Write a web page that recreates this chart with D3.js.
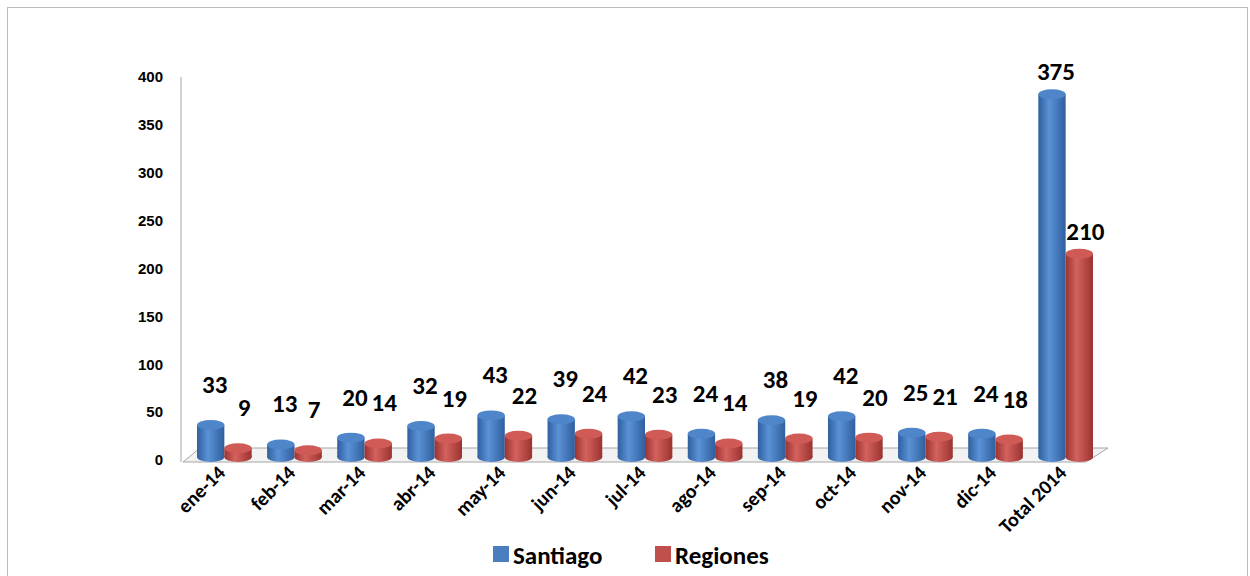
<!DOCTYPE html>
<html><head><meta charset="utf-8">
<script src="https://cdn.jsdelivr.net/npm/d3@7"></script>
<style>body{margin:0;background:#fff}svg{font-family:Carlito,"Open Sans","Liberation Sans",Arial,sans-serif}</style>
</head><body><svg id="c" width="1250" height="576"></svg>
<script>
var categories = ["ene-14","feb-14","mar-14","abr-14","may-14","jun-14","jul-14","ago-14","sep-14","oct-14","nov-14","dic-14","Total 2014"];
var santiago = [33,13,20,32,43,39,42,24,38,42,25,24,375];
var regiones = [9,7,14,19,22,24,23,14,19,20,21,18,210];
var yTicks = [0,50,100,150,200,250,300,350,400];

var svg = d3.select("#c");
svg.append("rect").attr("x",7.5).attr("y",7.5).attr("width",1240).attr("height",575).attr("fill","none").attr("stroke","#bbb");

var defs = svg.append("defs");
function grad(id, dark, light) {
  var g = defs.append("linearGradient").attr("id", id);
  g.append("stop").attr("offset","0%").attr("stop-color",dark);
  g.append("stop").attr("offset","40%").attr("stop-color",light);
  g.append("stop").attr("offset","100%").attr("stop-color",dark);
}
grad("gb","#2f5f9e","#5b92d6");
grad("gr","#9b3330","#d4625e");

var y = d3.scaleLinear().domain([0,400]).range([460,77]);
var yb = d3.scaleLinear().domain([0,400]).range([457,70]);
var x = d3.scaleBand().domain(categories).range([190,1100]).paddingInner(0.22).paddingOuter(0.1);

// floor
svg.append("path").attr("d","M183,462 L200,448 L1108,448 L1086,462 Z").attr("fill","#f2f2f2").attr("stroke","#a6a6a6");
svg.append("line").attr("x1",181).attr("x2",181).attr("y1",77).attr("y2",462).attr("stroke","#a6a6a6");

var ax = svg.append("g").attr("transform","translate(181,0)").call(d3.axisLeft(y).tickValues(yTicks).tickSize(0).tickPadding(18));
ax.select(".domain").remove();
ax.selectAll("text").attr("font-size",15).attr("font-weight","bold").attr("fill","#000");

var bw = x.bandwidth()/2;
function cyl(vals, off, fill, top, dx) {
  var g = svg.append("g");
  categories.forEach(function(c,i){
    var x0 = x(c)+off, cx = x0+bw/2, t = yb(vals[i]), b = yb(0), ry = 5;
    g.append("ellipse").attr("cx",cx).attr("cy",b).attr("rx",bw/2).attr("ry",ry).attr("fill","url(#"+fill+")");
    g.append("rect").attr("x",x0).attr("y",t).attr("width",bw).attr("height",b-t).attr("fill","url(#"+fill+")");
    g.append("ellipse").attr("cx",cx).attr("cy",t).attr("rx",bw/2).attr("ry",ry).attr("fill",top);
    svg.append("text").attr("x",cx+dx).attr("y",t-(i==12?14:32)).attr("text-anchor","middle")
      .attr("font-size",25).attr("font-weight","bold").text(vals[i]);
  });
}
cyl(santiago, 0, "gb", "#4f86c9", 4);
cyl(regiones, bw, "gr", "#cf5a56", 6);

categories.forEach(function(c){
  var cx = x(c)+bw;
  svg.append("text").attr("transform","translate("+(cx+2)+",474) rotate(-45)").attr("text-anchor","end")
    .attr("font-size",20).attr("font-weight","bold").text(c);
});

var leg = [["Santiago","#4a7ebf",493],["Regiones","#c0504d",655]];
leg.forEach(function(l){
  svg.append("rect").attr("x",l[2]).attr("y",546).attr("width",16).attr("height",16).attr("fill",l[1]);
  svg.append("text").attr("x",l[2]+20).attr("y",564).attr("font-size",25).attr("font-weight","bold").text(l[0]);
});
</script></body></html>
